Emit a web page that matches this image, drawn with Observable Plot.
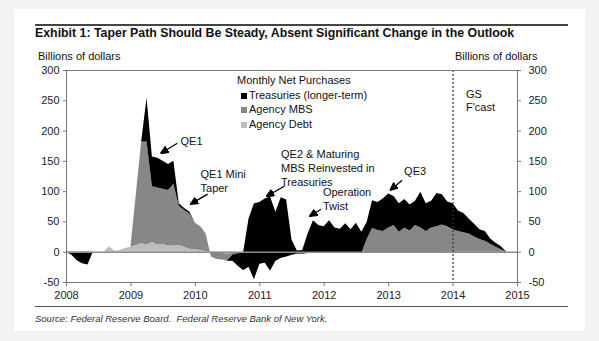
<!DOCTYPE html>
<html><head><meta charset="utf-8">
<script src="https://cdn.jsdelivr.net/npm/d3@7"></script>
<script src="https://cdn.jsdelivr.net/npm/@observablehq/plot@0.6"></script>
<style>
html,body{margin:0;padding:0;}
body{background:#f3f3f3;font-family:"Liberation Sans",Arial,sans-serif;width:599px;height:341px;position:relative;overflow:hidden;}
#card{position:absolute;left:14px;top:9px;width:571px;height:322px;background:#fff;}
.t{position:absolute;white-space:nowrap;color:#111;line-height:13px;font-size:11px;}
.rule{position:absolute;left:35px;width:533px;height:1.5px;background:#444;}
.sq{display:inline-block;width:6px;height:6px;margin-right:2px;vertical-align:0px;}
#chart{position:absolute;left:0;top:0;}
</style></head>
<body>
<div id="card"></div>
<div class="rule" style="top:24px"></div>
<div class="t" style="left:35px;top:26px;font-weight:bold;font-size:12.35px;line-height:15px;">Exhibit 1: Taper Path Should Be Steady, Absent Significant Change in the Outlook</div>
<div class="t" style="left:38px;top:50px;">Billions of dollars</div>
<div class="t" style="left:455px;top:50px;">Billions of dollars</div>
<div class="rule" style="top:306px;height:1px;background:#555"></div>
<div class="t" style="left:35px;top:312px;font-size:9.5px;font-style:italic;color:#333">Source: Federal Reserve Board.&nbsp; Federal Reserve Bank of New York.</div>
<div id="chart"></div>
<div id="legend"></div>
<script>
// Monthly values, Jan 2008 .. Nov 2014 (billions of dollars)
const startYear = 2008;
const treasuries = [
  0,-5,-14,-19,-21,0,0,0,0,0,0,0,
  0,0,0,72,49,49,46,43,38,4,3,3,
  0,0,0,0,0,0,0,10,20,30,80,125,
  102,106,122,81,100,94,25,5,6,32,54,46,
  44,54,42,40,49,39,50,35,28,46,46,54,
  56,48,47,47,43,40,59,46,44,55,50,41,
  43,34,32,25,21,16,16,9,7,5,0
];
const agencyMBS = [
  0,0,0,0,0,0,0,0,0,0,0,0,
  0,84,168,170,92,94,91,92,101,65,61,58,
  44,39,29,-8,-11,-11,-12,-13,-22,-29,-24,-44,
  -19,-17,-30,-14,-9,-7,-4,-2,-2,-1,-1,-1,
  -1,-1,-1,-1,-1,-1,-1,-1,22,40,38,36,
  42,46,35,42,37,46,42,36,42,44,46,42,
  37,34,32,30,25,21,18,13,8,4,0
];
const agencyDebt = [
  0,0,0,0,0,0,0,0,9,2,3,6,
  8,11,14,12,16,12,13,10,11,11,8,5,
  4,3,1,0,-1,-2,-3,-2,-1,-1,-1,-1,
  -1,-1,-1,-1,-1,-1,-1,-1,-1,-1,-1,-1,
  -1,-1,-1,-1,-1,-1,-1,-1,-1,-1,-2,-2,
  -2,-2,-2,-2,-2,-2,-2,-2,-2,-2,-1,0,
  0,0,0,0,0,0,0,0,0,0,0
];
const seriesNames = ["Treasuries (longer-term)", "Agency MBS", "Agency Debt"];
const seriesColors = ["#000000", "#878787", "#bdbdbd"];
const yearTicks = [2008, 2009, 2010, 2011, 2012, 2013, 2014, 2015];
const valueTicks = [-50, 0, 50, 100, 150, 200, 250, 300];
const forecastStart = 2014;

// annotations (data space)
const noteText = ["QE1", "QE1 Mini\nTaper", "QE2 & Maturing\nMBS Reinvested in\nTreasuries", "Operation\nTwist", "QE3", "GS\nF'cast"];
const noteX = [2009.77, 2010.08, 2011.33, 2011.98, 2013.24, 2014.20];
const noteY = [185, 118, 140, 89, 135, 251];
const arrowX1 = [2009.72, 2010.19, 2011.38, 2011.95, 2013.21];
const arrowY1 = [180, 96, 109, 71, 119];
const arrowX2 = [2009.46, 2009.92, 2011.10, 2011.77, 2013.02];
const arrowY2 = [163, 79, 92, 59, 102];

// Excel-style cumulative stacking (Debt, then MBS, then Treasuries)
const rows = treasuries.map((_, i) => {
  const d = agencyDebt[i];
  const m = d + agencyMBS[i];
  const t = m + treasuries[i];
  return {x: startYear + i / 12, d, m, t};
});
const notes = noteText.map((text, i) => ({text, x: noteX[i], y: noteY[i]}));
const arrows = arrowX1.map((_, i) => ({x1: arrowX1[i], y1: arrowY1[i], x2: arrowX2[i], y2: arrowY2[i]}));

function filledArrow(color) {
  return d3.create("svg:marker")
    .attr("viewBox", "-8 -4 8 8")
    .attr("markerWidth", 8).attr("markerHeight", 8)
    .attr("markerUnits", "userSpaceOnUse")
    .attr("orient", "auto")
    .attr("fill", color)
    .call(m => m.append("path").attr("d", "M-8,-3.6L0,0L-8,3.6Z"))
    .node();
}
const plain = d => String(d);

const chart = Plot.plot({
  width: 599, height: 341,
  marginLeft: 66, marginRight: 82, marginTop: 70, marginBottom: 59,
  style: {background: "transparent", fontFamily: "Liberation Sans, Arial, sans-serif", fontSize: "11px", color: "#222", overflow: "visible"},
  x: {domain: [2008, 2015]},
  y: {domain: [-50, 300]},
  marks: [
    Plot.areaY(rows, {x: "x", y1: 0, y2: "d", fill: seriesColors[2]}),
    Plot.areaY(rows, {x: "x", y1: "d", y2: "m", fill: seriesColors[1]}),
    Plot.areaY(rows, {x: "x", y1: "m", y2: "t", fill: seriesColors[0]}),
    Plot.ruleY([0], {stroke: "#8c8c8c", strokeWidth: 1.5}),
    Plot.ruleX([forecastStart], {stroke: "#333", strokeWidth: 1.2, strokeDasharray: "2,2"}),
    Plot.frame({stroke: "#777"}),
    Plot.axisX({ticks: yearTicks, tickFormat: plain, tickSize: 4, tickPadding: 5, stroke: "#777", label: null, fontSize: 11}),
    Plot.axisY({anchor: "left", ticks: valueTicks, tickFormat: plain, tickSize: 3, tickPadding: 4, stroke: "#777", label: null, fontSize: 11}),
    Plot.axisY({anchor: "right", ticks: valueTicks, tickFormat: plain, tickSize: 3, tickPadding: 8, stroke: "#777", label: null, fontSize: 11}),
    Plot.link(arrows, {x1: "x1", y1: "y1", x2: "x2", y2: "y2", stroke: "#000", strokeWidth: 1.3, markerEnd: filledArrow}),
    Plot.text(notes, {x: "x", y: "y", text: "text", textAnchor: "start", lineAnchor: "middle", lineHeight: 1.25, fontSize: 11, fill: "#111"})
  ]
});
document.getElementById("chart").appendChild(chart);

// legend
const legend = document.getElementById("legend");
const head = document.createElement("div");
head.className = "t"; head.style.left = "237px"; head.style.top = "74px";
head.textContent = "Monthly Net Purchases";
legend.appendChild(head);
seriesNames.forEach((name, i) => {
  const el = document.createElement("div");
  el.className = "t"; el.style.left = "241px"; el.style.top = (89 + i * 14.3) + "px";
  el.innerHTML = `<span class="sq" style="background:${seriesColors[i]}"></span>` + name;
  legend.appendChild(el);
});
</script>
</body></html>
